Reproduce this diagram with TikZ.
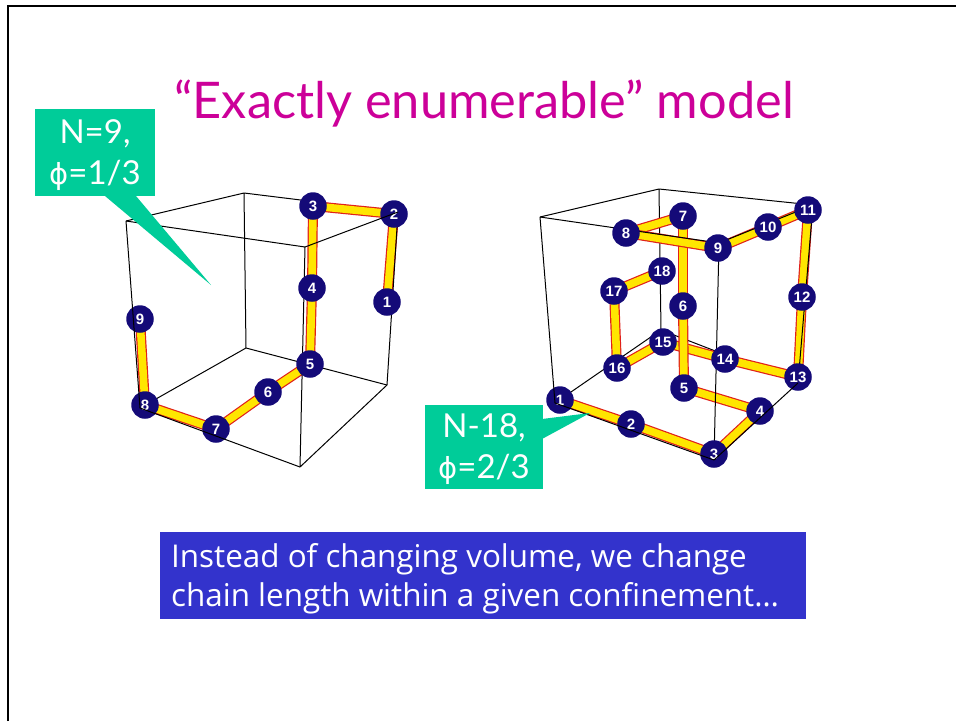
\documentclass[tikz,border=0pt]{standalone}
\usepackage{fontspec}
\setmainfont{Lato}
\newfontfamily\symfont{DejaVu Sans}
\newfontfamily\beadfont{Liberation Sans}
\newfontfamily\notefont{Open Sans}
\usetikzlibrary{calc}
\pgfdeclarelayer{paper}\pgfdeclarelayer{backw}\pgfdeclarelayer{tubes}\pgfdeclarelayer{frontw}\pgfdeclarelayer{over}\pgfdeclarelayer{top}
\pgfsetlayers{paper,backw,tubes,frontw,main,over,top}
\definecolor{calloutgreen}{HTML}{00CC99}
\definecolor{beadnavy}{HTML}{140A78}
\definecolor{titlepink}{HTML}{CC0099}
\definecolor{noteblue}{HTML}{3333CC}
\definecolor{tubeyellow}{HTML}{FFE600}
\definecolor{tubered}{HTML}{E0201A}
\tikzset{
 x=1pt,y=-1pt,
 bead/.style={circle,fill=beadnavy,draw=none,minimum size=27.5pt,inner sep=0pt,text=white,font=\beadfont\bfseries\fontsize{15}{15}\selectfont},
 wire/.style={draw=black,line width=1pt,line join=round},
 tube/.style={draw=tubered,line width=10pt,postaction={draw=tubeyellow,line width=7.6pt}},
 callout/.style={fill=calloutgreen,draw=none},
 calloutlabel/.style={text=white,align=center,font=\fontsize{33}{41}\selectfont},
 noteline/.style={anchor=base west,text=white,font=\notefont\fontsize{31.4}{31}\selectfont,inner sep=0pt},
}
\newcommand{\phisym}{{\symfont\fontsize{29}{29}\selectfont ϕ}}
\begin{document}
\begin{tikzpicture}
\useasboundingbox (0,0) rectangle (956,721);
\begin{pgfonlayer}{paper}
\fill[white] (0,0) rectangle (956,721);
\end{pgfonlayer}
\coordinate (fbl) at (8,721);\coordinate (ftl) at (8,6);\coordinate (ftr) at (956,6);
\draw[black,line width=2.2pt] (fbl) -- (ftl) -- (ftr);
\node[text=titlepink,font=\fontsize{50.5}{50}\selectfont,anchor=base] (title) at (484,118) {“Exactly enumerable” model};

% left cube
\coordinate (la) at (126,221);\coordinate (lb) at (244,193);\coordinate (lc) at (398,212);\coordinate (ld) at (305,247);
\coordinate (le) at (140,408);\coordinate (lf) at (246,348);\coordinate (lg) at (387,385);\coordinate (lh) at (300,467);
\foreach \n/\x/\y in {1/387/302,2/394/214,3/313/206,4/312/288,5/310/364,6/268/392,7/216/429,8/145/405,9/140/319}
  \node[bead] (l\n) at (\x,\y) {\n};
\begin{pgfonlayer}{backw}
 \draw[wire] (la)--(lb)--(lc) (lb)--(lf) (le)--(lf)--(lg);
\end{pgfonlayer}
\begin{pgfonlayer}{tubes}
 \foreach \a/\b in {1/2,2/3,3/4,4/5,5/6,6/7,7/8,8/9}
  \draw[tube] (l\a.center)--(l\b.center);
\end{pgfonlayer}
\begin{pgfonlayer}{frontw}
 \draw[wire] (la)--(ld)--(lh)--(lg)--(lc);
\end{pgfonlayer}
\begin{pgfonlayer}{over}
 \draw[wire] (la)--(le)--(lh) (ld)--(lc);
\end{pgfonlayer}

% right cube
\coordinate (ra) at (540,217);\coordinate (rb) at (659,189);\coordinate (rc) at (813,205);\coordinate (rd) at (719,243);
\coordinate (re) at (555,403);\coordinate (rf) at (661,330);\coordinate (rg) at (798,383);\coordinate (rh) at (714,460);
\foreach \n/\x/\y in {1/560/400,2/631/424,3/714/454,4/760/411,5/684/388,6/683/306,7/683/216,8/626/233,9/718/248,10/768/227,11/808/210,12/802/297,13/798/377,14/725/359,15/663/342,16/617/368,17/614/291,18/662/271}
  \node[bead] (r\n) at (\x,\y) {\n};
\begin{pgfonlayer}{backw}
 \draw[wire] (ra)--(rb)--(rc) (rb)--(rf) (re)--(rf)--(rg);
\end{pgfonlayer}
\begin{pgfonlayer}{tubes}
 \foreach \a/\b in {17/18,16/17,15/16,14/15,13/14,12/13,11/12,10/11,9/10,1/2,2/3,3/4,4/5,5/6,6/7,7/8,8/9}
  \draw[tube] (r\a.center)--(r\b.center);
\end{pgfonlayer}
\begin{pgfonlayer}{frontw}
 \draw[wire] (ra)--(rd)--(rc) (rd)--(rh) (rg)--(rc);
\end{pgfonlayer}
\begin{pgfonlayer}{over}
 \draw[wire] (ra)--(re)--(rh)--(rg);
\end{pgfonlayer}

% callouts
\begin{pgfonlayer}{top}
 \coordinate (lt1) at (105,196);\coordinate (lt2) at (136,196);\coordinate (ltip) at (211,285);
 \fill[callout] (lt1)--(ltip)--(lt2)--cycle;
 \node[callout,minimum width=120pt,minimum height=87pt,inner sep=0pt] (cl) at (95,152.5) {};
 \node[calloutlabel] (cllabel) at (95,155) {N=9,\\\phisym=1/3};
 \coordinate (rt1) at (542,419);\coordinate (rt2) at (542,439);\coordinate (rtip) at (590,413);
 \fill[callout] (rt1)--(rtip)--(rt2)--cycle;
 \node[callout,minimum width=118pt,minimum height=84pt,inner sep=0pt] (cr) at (484,447) {};
 \node[calloutlabel] (crlabel) at (484,449) {N-18,\\\phisym=2/3};
\end{pgfonlayer}

\node[fill=noteblue,minimum width=646pt,minimum height=87pt,inner sep=0pt] (note) at (483,575.5) {};
\node[noteline] (n1) at (171,567) {Instead of changing volume, we change};
\node[noteline] (n2) at (171,606) {chain length within a given confinement…};
\end{tikzpicture}
\end{document}
